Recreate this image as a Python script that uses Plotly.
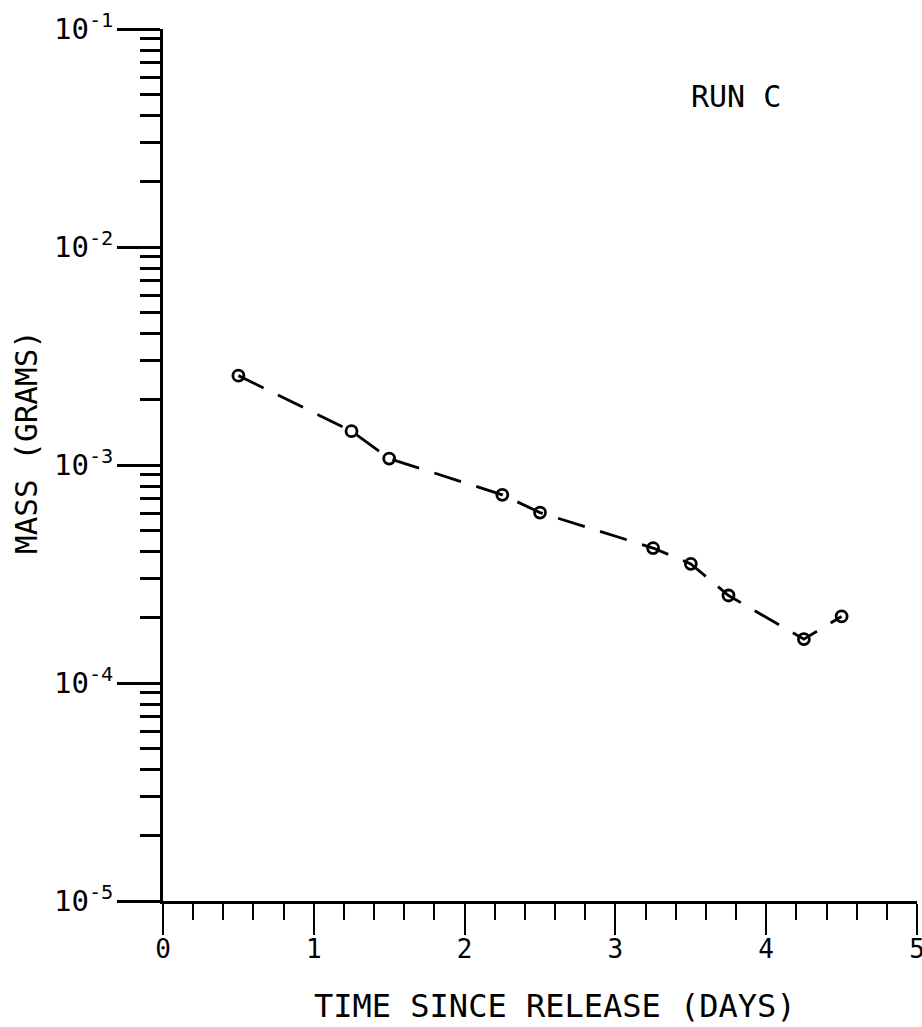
import plotly.graph_objects as go

days = [0.5, 1.25, 1.5, 2.25, 2.5, 3.25, 3.5, 3.75, 4.25, 4.5]
mass = [2.57e-3, 1.43e-3, 1.07e-3, 7.3e-4, 6.05e-4, 4.16e-4, 3.52e-4, 2.52e-4, 1.59e-4, 2.02e-4]

x_ticks = [0, 1, 2, 3, 4, 5]
x_ticktext = ["0", "1", "2", "3", "4", "5"]
y_ticks = [1e-5, 1e-4, 1e-3, 1e-2, 1e-1]
y_ticktext = ["10<sup>-5</sup>", "10<sup>-4</sup>", "10<sup>-3</sup>", "10<sup>-2</sup>", "10<sup>-1</sup>"]

FONT = "DejaVu Sans Mono"

fig = go.Figure()
fig.add_trace(go.Scatter(
    x=days, y=mass, mode="lines+markers",
    line=dict(color="black", width=2.8, dash="28px,16px"),
    marker=dict(symbol="circle-open", size=11, color="black", line=dict(width=2.8, color="black")),
    showlegend=False,
))

fig.update_layout(
    width=922, height=1027,
    margin=dict(l=163, r=5, t=29, b=126),
    plot_bgcolor="white", paper_bgcolor="white",
    font=dict(family=FONT, color="black"),
    xaxis=dict(
        range=[0, 5], tickvals=x_ticks, ticktext=x_ticktext,
        ticks="outside", ticklen=31, tickwidth=2, tickcolor="black",
        showline=True, linecolor="black", linewidth=2.8,
        showgrid=False, zeroline=False, automargin=False,
        tickfont=dict(size=26, family=FONT),
        ticklabeloverflow="allow", ticklabelstandoff=-8,
        minor=dict(ticks="outside", ticklen=16, tickwidth=2, tickcolor="black", dtick=0.2, showgrid=False),
    ),
    yaxis=dict(
        type="log", range=[-5, -1], tickvals=y_ticks, ticktext=y_ticktext,
        ticks="outside", ticklen=43, tickwidth=2.5, tickcolor="black",
        showline=True, linecolor="black", linewidth=2.8,
        showgrid=False, zeroline=False, automargin=False,
        tickfont=dict(size=29, family=FONT),
        ticklabeloverflow="allow", ticklabelstandoff=-2,
        minor=dict(ticks="outside", ticklen=20, tickwidth=2.5, tickcolor="black", dtick="D1", showgrid=False),
    ),
    annotations=[
        dict(text="RUN C", x=3.8, y=-1.31, xref="x", yref="y", showarrow=False,
             font=dict(size=30, family=FONT)),
        dict(text="TIME SINCE RELEASE (DAYS)", x=555, y=1006, xref="paper", yref="paper",
             xanchor="center", yanchor="middle",
             showarrow=False, font=dict(size=32, family=FONT)),
        dict(text="MASS (GRAMS)", x=26, y=442, xref="paper", yref="paper",
             xanchor="center", yanchor="middle",
             showarrow=False, textangle=-90, font=dict(size=31, family=FONT)),
    ],
)

# convert pixel-placed title annotations to paper coordinates
pw = 922 - 163 - 5
ph = 1027 - 29 - 126
for a in fig.layout.annotations:
    if a.xref == "paper":
        px, py = a.x, a.y
        a.x = (px - 163) / pw
        a.y = 1 - (py - 29) / ph

fig.write_html("out.html")
